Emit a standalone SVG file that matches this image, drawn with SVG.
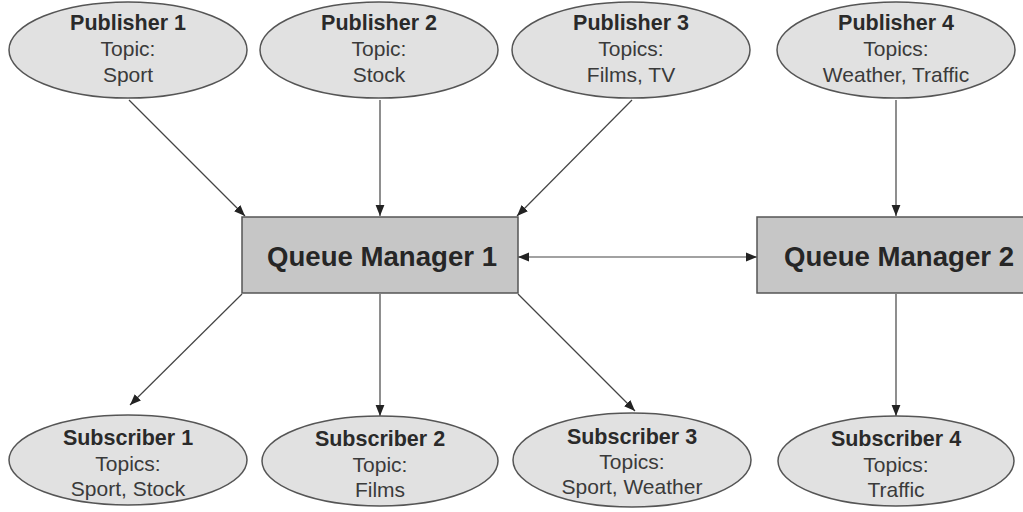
<svg xmlns="http://www.w3.org/2000/svg" width="1023" height="512" viewBox="0 0 1023 512">
  <style>
    .node ellipse { fill: #e1e1e1; stroke: #555; stroke-width: 1.5; }
    .qm rect { fill: #c6c6c6; stroke: #555; stroke-width: 1.5; }
    text { font-family: "Liberation Sans", Arial, sans-serif; text-anchor: middle; }
    .title { font-size: 21.5px; font-weight: bold; fill: #2a2a2a; }
    .body { font-size: 21px; fill: #3a3a3a; }
    .qmlabel { font-size: 27.6px; font-weight: bold; fill: #262626; }
    .link line { stroke: #444; stroke-width: 1.2; fill: none; }
  </style>
  <defs>
    <marker id="arrow" viewBox="0 0 10 10" refX="10" refY="5" markerWidth="11" markerHeight="11" markerUnits="userSpaceOnUse" orient="auto-start-reverse">
      <path d="M0,1 L10,5 L0,9 Z" fill="#222"/>
    </marker>
  </defs>

  <rect width="1023" height="512" fill="#ffffff"/>

  <!-- connectors -->
  <g id="connectors" class="link">
    <line x1="129" y1="100" x2="245" y2="216" marker-end="url(#arrow)"/>
    <line x1="380" y1="100" x2="380" y2="216" marker-end="url(#arrow)"/>
    <line x1="632" y1="100" x2="517" y2="216" marker-end="url(#arrow)"/>
    <line x1="896" y1="100" x2="896" y2="216" marker-end="url(#arrow)"/>
    <line x1="518" y1="257" x2="757" y2="257" marker-start="url(#arrow)" marker-end="url(#arrow)"/>
    <line x1="242" y1="294" x2="130" y2="405" marker-end="url(#arrow)"/>
    <line x1="380" y1="294" x2="380" y2="416" marker-end="url(#arrow)"/>
    <line x1="518" y1="294" x2="635" y2="411" marker-end="url(#arrow)"/>
    <line x1="896" y1="294" x2="896" y2="416" marker-end="url(#arrow)"/>
  </g>

  <!-- publishers -->
  <g id="publisher1" class="node">
    <ellipse cx="128" cy="50" rx="119" ry="48"/>
    <text class="title" x="128" y="30">Publisher 1</text>
    <text class="body" x="128" y="56">Topic:</text>
    <text class="body" x="128" y="82">Sport</text>
  </g>
  <g id="publisher2" class="node">
    <ellipse cx="379" cy="50" rx="119" ry="48"/>
    <text class="title" x="379" y="30">Publisher 2</text>
    <text class="body" x="379" y="56">Topic:</text>
    <text class="body" x="379" y="82">Stock</text>
  </g>
  <g id="publisher3" class="node">
    <ellipse cx="631" cy="50" rx="119" ry="48"/>
    <text class="title" x="631" y="30">Publisher 3</text>
    <text class="body" x="631" y="56">Topics:</text>
    <text class="body" x="631" y="82">Films, TV</text>
  </g>
  <g id="publisher4" class="node">
    <ellipse cx="896" cy="50" rx="119" ry="48"/>
    <text class="title" x="896" y="30">Publisher 4</text>
    <text class="body" x="896" y="56">Topics:</text>
    <text class="body" x="896" y="82">Weather, Traffic</text>
  </g>

  <!-- queue managers -->
  <g id="qm1" class="qm">
    <rect x="242" y="217" width="276" height="76"/>
    <text class="qmlabel" x="382" y="266">Queue Manager 1</text>
  </g>
  <g id="qm2" class="qm">
    <rect x="757" y="217" width="280" height="76"/>
    <text class="qmlabel" x="899" y="266">Queue Manager 2</text>
  </g>

  <!-- subscribers -->
  <g id="subscriber1" class="node">
    <ellipse cx="128" cy="460" rx="119" ry="45"/>
    <text class="title" x="128" y="445">Subscriber 1</text>
    <text class="body" x="128" y="471">Topics:</text>
    <text class="body" x="128" y="496">Sport, Stock</text>
  </g>
  <g id="subscriber2" class="node">
    <ellipse cx="380" cy="461" rx="118" ry="45"/>
    <text class="title" x="380" y="446">Subscriber 2</text>
    <text class="body" x="380" y="472">Topic:</text>
    <text class="body" x="380" y="497">Films</text>
  </g>
  <g id="subscriber3" class="node">
    <ellipse cx="632" cy="460" rx="119" ry="47"/>
    <text class="title" x="632" y="444">Subscriber 3</text>
    <text class="body" x="632" y="469">Topics:</text>
    <text class="body" x="632" y="494">Sport, Weather</text>
  </g>
  <g id="subscriber4" class="node">
    <ellipse cx="896" cy="461" rx="118" ry="45"/>
    <text class="title" x="896" y="446">Subscriber 4</text>
    <text class="body" x="896" y="472">Topics:</text>
    <text class="body" x="896" y="497">Traffic</text>
  </g>
</svg>
